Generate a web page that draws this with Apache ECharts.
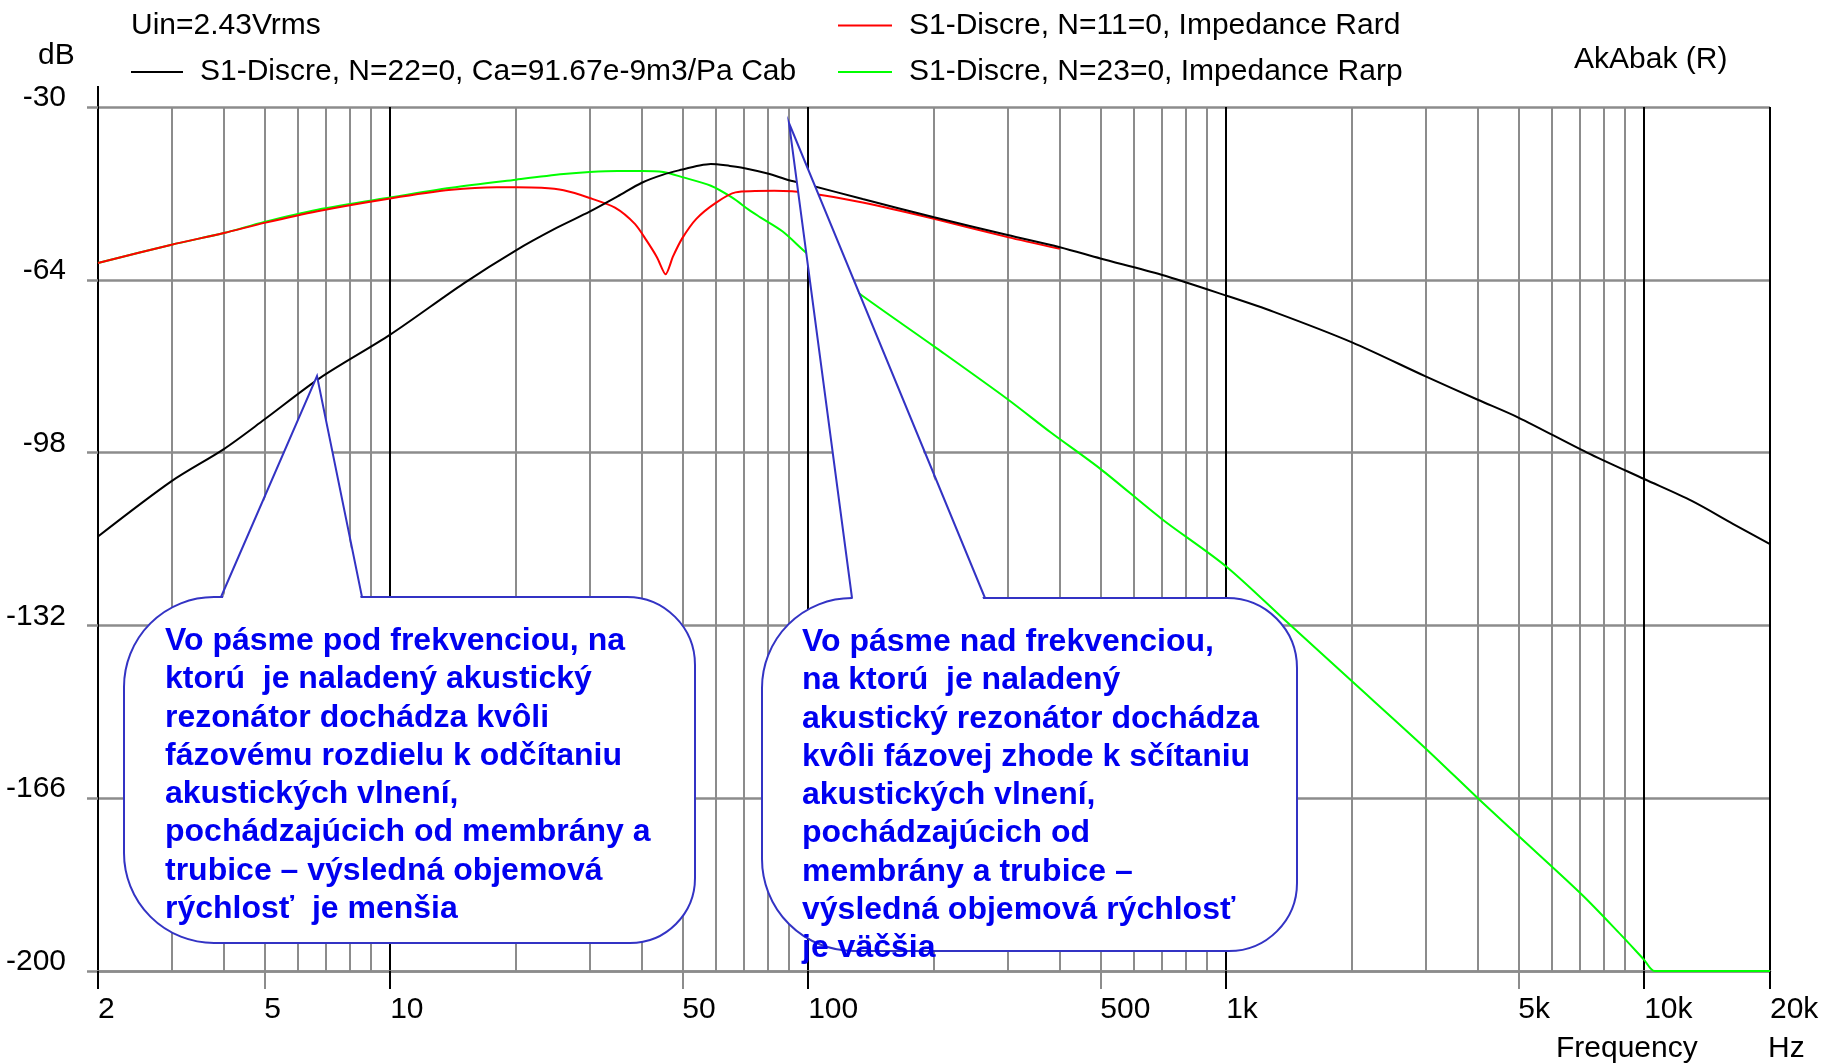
<!DOCTYPE html>
<html><head><meta charset="utf-8">
<script src="https://cdn.jsdelivr.net/npm/echarts@6/dist/echarts.min.js"></script>
<style>html,body{margin:0;padding:0;background:#fff}#c{width:1821px;height:1064px}</style>
</head><body><div id="c"></div>
<script>
// ---- data ----
const nameCab  = 'S1-Discre, N=22=0, Ca=91.67e-9m3/Pa Cab';
const nameRard = 'S1-Discre, N=11=0, Impedance Rard';
const nameRarp = 'S1-Discre, N=23=0, Impedance Rarp';

const freqCab = [2, 3, 4, 5, 6.8, 10, 15, 20, 25, 30, 35, 40, 45, 50, 55, 58.5, 65, 70, 80, 90, 100, 135, 200, 300, 400, 500, 700, 1000, 1300, 2000, 3000, 4000, 5000, 7300, 10000, 13000, 16300, 20000];
const dbCab   = [-114.5, -103.6, -97.3, -91.5, -83.3, -74.8, -64.7, -58.2, -53.8, -50.6, -47.6, -44.9, -43.3, -42.3, -41.5, -41.2, -41.6, -42.0, -43.1, -44.4, -45.3, -48.1, -51.7, -55.2, -57.6, -59.8, -63.0, -67.1, -70.3, -76.3, -83.0, -87.6, -91.1, -98.0, -103.2, -107.5, -112.0, -116.0];

const freqRard = [2, 3, 4, 5, 6.7, 10, 14, 18, 20, 23, 26, 30, 34.5, 38.5, 41, 43.5, 45.6, 47.5, 50, 54, 60, 67, 83, 100, 135, 200, 300, 400];
const dbRard   = [-60.7, -57.1, -54.8, -52.8, -50.5, -48.0, -46.3, -45.8, -45.8, -45.9, -46.4, -47.9, -49.8, -53.0, -56.2, -59.6, -62.9, -59.4, -55.8, -52.0, -48.9, -46.8, -46.5, -46.9, -48.8, -52.0, -55.6, -57.9];

const freqRarp = [2, 3, 4, 5, 6.7, 10, 14, 20, 26, 30, 35, 40, 45, 50, 58.5, 65.7, 72.3, 76.8, 86.9, 100, 132, 200, 300, 380, 500, 700, 1000, 1400, 2000, 3000, 4000, 5000, 7100, 8800, 10000, 10600, 20000];
const dbRarp   = [-60.7, -57.1, -54.8, -52.6, -50.2, -47.8, -45.9, -44.3, -43.2, -42.8, -42.6, -42.6, -42.8, -43.8, -45.5, -47.8, -50.3, -51.7, -54.5, -59.0, -66.6, -77.1, -87.5, -94.0, -101.2, -111.0, -120.4, -131.4, -143.0, -156.2, -166.0, -173.4, -185.0, -192.9, -197.8, -200, -200];

const yTicks = [-200, -166, -132, -98, -64, -30];
const xMajorLines = [2, 10, 100, 1000, 10000, 20000];
const xMinorLines = [3, 4, 5, 6, 7, 8, 9, 20, 30, 40, 50, 60, 70, 80, 90, 200, 300, 400, 500, 600, 700, 800, 900, 2000, 3000, 4000, 5000, 6000, 7000, 8000, 9000];
const xMinorTicks = [5, 50, 500, 5000];
const xLabels = [2, 5, 10, 50, 100, 500, 1000, 5000, 10000, 20000];

const callout1 = ['Vo pásme pod frekvenciou, na', 'ktorú  je naladený akustický', 'rezonátor dochádza kvôli', 'fázovému rozdielu k odčítaniu', 'akustických vlnení,', 'pochádzajúcich od membrány a', 'trubice – výsledná objemová', 'rýchlosť  je menšia'];
const callout2 = ['Vo pásme nad frekvenciou,', 'na ktorú  je naladený', 'akustický rezonátor dochádza', 'kvôli fázovej zhode k sčítaniu', 'akustických vlnení,', 'pochádzajúcich od', 'membrány a trubice –', 'výsledná objemová rýchlosť', 'je väčšia'];

// ---- chart ----
const FONT = "'Liberation Sans', Arial, sans-serif";
const FS = 30;
const BFONT = "'Liberation Sans', Arial, sans-serif";
const GRAY = '#8c8c8c';
const BLUE_LINE = '#3333c4';
const BLUE_TEXT = '#0000f0';
function pairs(xs, ys) { return xs.map((x, i) => [x, ys[i]]); }
function fmtHz(v) { return v >= 1000 ? (v / 1000) + 'k' : String(v); }

const chart = echarts.init(document.getElementById('c'), null, { renderer: 'canvas' });

const baseX = { type: 'log', logBase: 10, min: 2, max: 20000, position: 'bottom', gridIndex: 0 };
const legendText = { fontFamily: FONT, fontSize: FS, lineHeight: 30, color: '#000', padding: [0, 0, 0, 12] };

function callout(box, r, tail, lines, tx, ty) {
  return [
    { type: 'rect', z: 100, shape: { x: box[0], y: box[1], width: box[2], height: box[3], r: r },
      style: { fill: '#fff', stroke: BLUE_LINE, lineWidth: 2 } },
    { type: 'polygon', z: 101, shape: { points: [[tail[0][0] + 1, tail[0][1] + 3], tail[1], [tail[2][0] - 1, tail[2][1] + 3]] },
      style: { fill: '#fff', stroke: null } },
    { type: 'polyline', z: 102, shape: { points: tail }, style: { stroke: BLUE_LINE, lineWidth: 2, fill: null } },
    { type: 'text', z: 103, x: tx, y: ty,
      style: { text: lines.join('\n'), fontFamily: BFONT, fontWeight: 'bold', fontSize: 32, lineHeight: 38.3, fill: BLUE_TEXT } }
  ];
}

const option = {
  animation: false,
  backgroundColor: '#fff',
  grid: { left: 98, right: 51, top: 107, bottom: 93, containLabel: false, outerBoundsMode: 'none' },
  xAxis: [
    Object.assign({}, baseX, {
      axisLine: { show: true, lineStyle: { color: GRAY, width: 2.5 } },
      axisTick: { show: true, customValues: xMajorLines, length: 18, lineStyle: { color: '#000', width: 2 } },
      axisLabel: { show: true, customValues: xLabels, formatter: fmtHz, align: 'left', verticalAlign: 'middle',
        margin: 39, fontFamily: FONT, fontSize: FS, color: '#000' },
      splitLine: { show: true, lineStyle: { color: '#000', width: 2 } }
    }),
    Object.assign({}, baseX, {
      axisLine: { show: false },
      axisTick: { show: false, customValues: xMinorLines },
      axisLabel: { show: false },
      splitLine: { show: true, lineStyle: { color: GRAY, width: 2 } }
    }),
    Object.assign({}, baseX, {
      axisLine: { show: false },
      axisTick: { show: true, customValues: xMinorTicks, length: 18, lineStyle: { color: GRAY, width: 2 } },
      axisLabel: { show: false },
      splitLine: { show: false }
    })
  ],
  yAxis: {
    type: 'value', min: -200, max: -30,
    axisLine: { show: true, lineStyle: { color: '#000', width: 2 } },
    axisTick: { show: true, customValues: yTicks, length: 11, lineStyle: { color: GRAY, width: 2.5 } },
    axisLabel: { customValues: yTicks, margin: 32, fontFamily: FONT, fontSize: FS, color: '#000',
      verticalAlign: 'bottom', lineHeight: 18 },
    splitLine: { show: true, lineStyle: { color: GRAY, width: 2.5 } }
  },
  legend: [
    { data: [nameCab], left: 131, top: 57, orient: 'horizontal', icon: 'rect', itemWidth: 52, itemHeight: 2,
      padding: 0, selectedMode: false, textStyle: legendText },
    { data: [nameRard, nameRarp], left: 838, top: 10.5, orient: 'vertical', itemGap: 16.5, icon: 'rect',
      itemWidth: 54, itemHeight: 2, padding: 0, selectedMode: false, textStyle: legendText }
  ],
  series: [
    { name: nameRarp, type: 'line', xAxisIndex: 0, data: pairs(freqRarp, dbRarp), color: '#00ff00',
      showSymbol: false, symbol: 'none', smooth: 0.3, clip: false, lineStyle: { width: 2 }, z: 2 },
    { name: nameRard, type: 'line', xAxisIndex: 0, data: pairs(freqRard, dbRard), color: '#ff0000',
      showSymbol: false, symbol: 'none', smooth: 0.25, lineStyle: { width: 2 }, z: 3 },
    { name: nameCab, type: 'line', xAxisIndex: 0, data: pairs(freqCab, dbCab), color: '#000000',
      showSymbol: false, symbol: 'none', smooth: 0.3, lineStyle: { width: 2 }, z: 4 }
  ],
  graphic: [
    { type: 'line', shape: { x1: 98, y1: 86, x2: 98, y2: 108 }, style: { stroke: '#000', lineWidth: 2 } },
    { type: 'text', x: 131, y: 25.5, style: { text: 'Uin=2.43Vrms', fontFamily: FONT, fontSize: FS, fill: '#000', verticalAlign: 'middle' } },
    { type: 'text', x: 38, y: 56, style: { text: 'dB', fontFamily: FONT, fontSize: FS, fill: '#000', verticalAlign: 'middle' } },
    { type: 'text', x: 1574, y: 60, style: { text: 'AkAbak (R)', fontFamily: FONT, fontSize: FS, fill: '#000', verticalAlign: 'middle' } },
    { type: 'text', x: 1556, y: 1049, style: { text: 'Frequency', fontFamily: FONT, fontSize: FS, fill: '#000', verticalAlign: 'middle' } },
    { type: 'text', x: 1768, y: 1049, style: { text: 'Hz', fontFamily: FONT, fontSize: FS, fill: '#000', verticalAlign: 'middle' } }
  ].concat(
    callout([124, 597, 571, 346], [90, 68, 65, 90], [[221, 597], [317, 376], [362, 597]], callout1, 165, 622),
    callout([762, 598, 535, 353], [90, 70, 68, 92], [[852, 598], [789, 123], [985, 598]], callout2, 802, 623)
  )
};
chart.setOption(option);
</script>
</body></html>
